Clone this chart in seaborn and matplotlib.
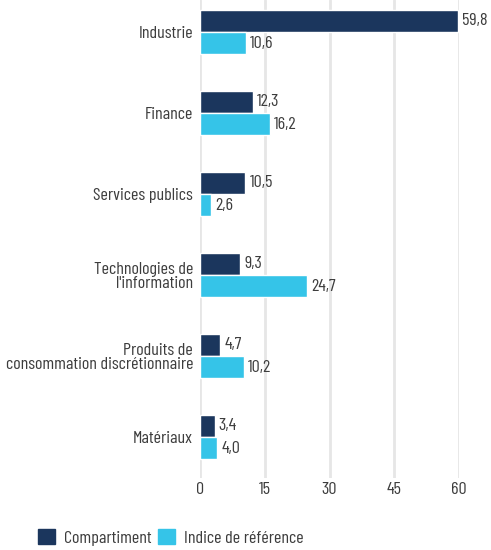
import pandas as pd
import matplotlib
matplotlib.use("Agg")
import matplotlib.pyplot as plt
import seaborn as sns
from matplotlib.patches import Patch

# Data
categories = ["Industrie", "Finance", "Services publics",
              "Technologies de\nl'information",
              "Produits de\nconsommation discrétionnaire", "Matériaux"]
compartiment = [59.8, 12.3, 10.5, 9.3, 4.7, 3.4]
indice = [10.6, 16.2, 2.6, 24.7, 10.2, 4.0]
series_names = ["Compartiment", "Indice de référence"]
xticks = [0, 15, 30, 45, 60]

colors = ["#1b365d", "#35c4e8"]
text_color = "#3d3d3d"

df = pd.DataFrame({
    "Secteur": categories * 2,
    "Valeur": compartiment + indice,
    "Série": [series_names[0]] * len(categories) + [series_names[1]] * len(categories),
})

sns.set_style("white")
plt.rcParams["font.family"] = ["Barlow Condensed", "DejaVu Sans"]
plt.rcParams["font.weight"] = "normal"

fig = plt.figure(figsize=(4.91, 5.5), dpi=100)
ax = fig.add_axes([200 / 491, 1 - 478 / 550, 259 / 491, 478 / 550])

sns.barplot(data=df, x="Valeur", y="Secteur", hue="Série", orient="h",
            palette=colors, width=0.56, gap=0.04, ax=ax, legend=False,
            saturation=1)

fs = 13
ax.set_xlim(0, 60)
ax.set_ylim(5.506, -0.395)
ax.set_xticks(xticks)
ax.set_xticklabels([str(t) for t in xticks], fontsize=fs, color=text_color)
ax.tick_params(axis="y", labelsize=fs, labelcolor=text_color, length=0, pad=5)
ax.tick_params(axis="x", length=0, pad=3)
for lbl in ax.get_yticklabels():
    lbl.set_horizontalalignment("right")
    lbl.set_multialignment("right")
    lbl.set_linespacing(0.95)
ax.set_xlabel("")
ax.set_ylabel("")
ax.grid(axis="x", color="#e6e6e6", linewidth=2)
ax.set_axisbelow(True)
for s in ax.spines.values():
    s.set_visible(False)

# value labels with comma decimals
for container in ax.containers:
    labels = [f"{b.get_width():.1f}".replace(".", ",") for b in container]
    ax.bar_label(container, labels=labels, padding=3, fontsize=fs,
                 color=text_color, clip_on=False)

handles = [Patch(color=c, label=n) for c, n in zip(colors, series_names)]
fig.legend(handles=handles, loc="lower left", bbox_to_anchor=(22 / 491, -0.022),
           ncol=2, frameon=False, fontsize=fs, handlelength=0.9,
           handleheight=0.9, handletextpad=0.5, columnspacing=0.4,
           labelcolor=text_color)

fig.savefig("out.png", dpi=100)
